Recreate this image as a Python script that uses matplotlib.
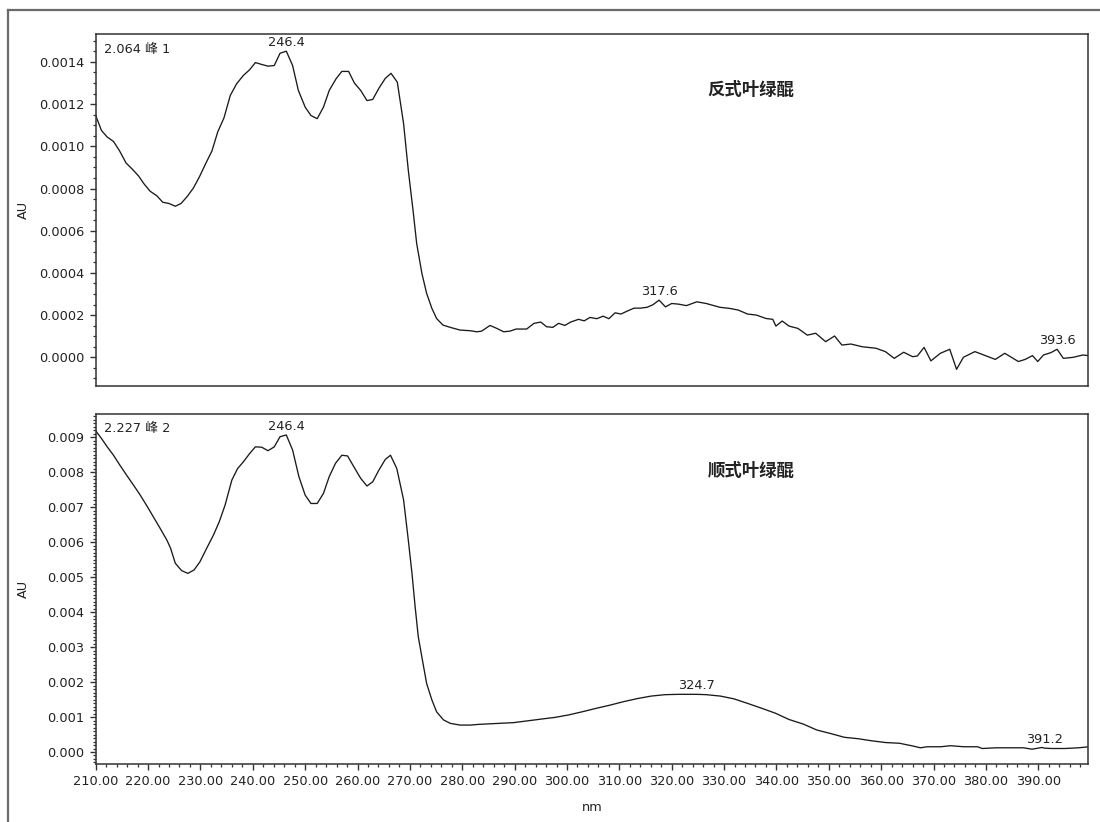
import matplotlib
matplotlib.use("Agg")
import matplotlib.pyplot as plt
from matplotlib.ticker import MultipleLocator, FormatStrFormatter
from matplotlib.lines import Line2D

# ---------------- data ----------------
wl_trans = [210.0, 211.1, 212.2, 213.4, 214.5, 215.8, 217.1, 218.2, 219.2, 220.4, 221.7, 222.8,
            224.0, 225.2, 226.3, 227.5, 228.7, 229.8, 231.0, 232.2, 233.3, 234.5, 235.7, 236.9,
            238.2, 239.4, 240.5, 241.7, 242.9, 244.1, 245.2, 246.4, 247.6, 248.7, 250.0, 251.1,
            252.3, 253.5, 254.6, 255.9, 257.0, 258.3, 259.4, 260.6, 261.8, 262.9, 264.1, 265.3,
            266.4, 267.6, 268.8, 269.7, 270.6, 271.3, 272.3, 273.2, 274.2, 275.1, 276.3, 277.7,
            279.6, 281.5, 282.8, 283.7, 285.3, 286.6, 287.9, 289.1, 290.3, 292.3, 293.7, 295.0, 296.1,
            297.3, 298.4, 299.6, 300.7, 302.2, 303.3, 304.4, 305.7, 306.9, 308.0, 309.2, 310.3,
            311.5, 312.8, 314.0, 315.3, 316.4, 317.6, 318.8, 320.0, 321.3, 322.8, 324.8, 326.6,
            329.2, 331.0, 332.7, 334.5, 336.2, 338.0, 339.3, 339.9, 341.1, 342.4, 344.1, 345.9,
            347.5, 349.4, 351.1, 352.5, 354.2, 356.4, 359.0, 360.8, 362.5, 364.3, 366.0, 366.9,
            368.2, 369.5, 371.3, 373.1, 374.4, 375.7, 377.9, 380.1, 381.8, 383.6, 386.2, 387.5,
            388.9, 389.9, 391.0, 392.4, 393.6, 394.8, 396.7, 398.5, 399.6]
au_trans = [0.001146, 0.001075, 0.001044, 0.001023, 0.000981, 0.000921, 0.000889, 0.000859,
            0.000823, 0.000787, 0.000765, 0.000735, 0.000729, 0.000716, 0.000729, 0.000763,
            0.000804, 0.000855, 0.000918, 0.000978, 0.001068, 0.001135, 0.001241, 0.001296,
            0.001336, 0.001363, 0.001397, 0.001388, 0.001380, 0.001383, 0.001441, 0.001451,
            0.001383, 0.001265, 0.001186, 0.001146, 0.001131, 0.001186, 0.001265, 0.001320,
            0.001355, 0.001355, 0.001300, 0.001265, 0.001217, 0.001222, 0.001276, 0.001322,
            0.001346, 0.001304, 0.001107, 0.000886, 0.000697, 0.000539, 0.000397, 0.000303,
            0.000232, 0.000184, 0.000153, 0.000142, 0.000129, 0.000126, 0.000121, 0.000124,
            0.000151, 0.000137, 0.000121, 0.000124, 0.000134, 0.000134, 0.000161, 0.000167,
            0.000145, 0.000142, 0.000161, 0.000151, 0.000167, 0.000180, 0.000173, 0.000189,
            0.000183, 0.000195, 0.000183, 0.000211, 0.000205, 0.000219, 0.000233, 0.000233,
            0.000237, 0.000249, 0.000271, 0.000239, 0.000255, 0.000252, 0.000245, 0.000263,
            0.000255, 0.000237, 0.000232, 0.000224, 0.000205, 0.000200, 0.000184, 0.000180,
            0.000148, 0.000172, 0.000148, 0.000137, 0.000105, 0.000114, 0.000074, 0.000101,
            0.000058, 0.000063, 0.000050, 0.000043, 0.000027, -0.000005, 0.000024, 0.000003,
            0.000006, 0.000047, -0.000017, 0.000019, 0.000038, -0.000057, 0.000000, 0.000027,
            0.000006, -0.000010, 0.000019, -0.000020, -0.000010, 0.000008, -0.000020, 0.000011,
            0.000022, 0.000038, -0.000005, 0.000000, 0.000011, 0.000008]

wl_cis = [210.0, 211.1, 212.2, 213.4, 214.6, 215.9, 217.2, 218.5, 219.7, 221.0, 222.3, 223.6,
          224.3, 225.2, 226.4, 227.6, 228.8, 229.9, 231.2, 232.5, 233.6, 234.7, 236.0, 237.1,
          238.2, 239.4, 240.5, 241.7, 242.9, 244.1, 245.2, 246.4, 247.6, 248.8, 250.0, 251.1,
          252.3, 253.5, 254.6, 255.8, 257.0, 258.1, 259.3, 260.6, 261.8, 262.9, 264.1, 265.3,
          266.3, 267.5, 268.8, 269.7, 270.4, 271.0, 271.6, 272.5, 273.2, 274.2, 275.1, 276.4,
          277.7, 279.6, 281.5, 283.1, 284.5, 287.1, 289.8, 292.4, 295.0, 297.7, 300.3, 302.9,
          305.6, 308.2, 310.8, 313.5, 316.1, 318.7, 321.4, 324.7, 326.6, 329.3, 331.9, 334.5,
          337.2, 339.8, 342.4, 345.1, 347.7, 350.3, 353.0, 355.6, 358.2, 360.9, 363.5, 366.1,
          367.5, 368.8, 371.4, 373.2, 375.8, 378.4, 379.3, 382.0, 384.6, 387.2, 388.8, 390.7,
          391.2, 392.5, 395.1, 397.7, 399.7]
au_cis = [0.00919, 0.00897, 0.00873, 0.00849, 0.00821, 0.00792, 0.00764, 0.00735, 0.00706,
          0.00673, 0.00640, 0.00606, 0.00583, 0.00540, 0.00519, 0.00511, 0.00521, 0.00544,
          0.00583, 0.00621, 0.00659, 0.00706, 0.00778, 0.00811, 0.00830, 0.00854, 0.00873,
          0.00872, 0.00862, 0.00873, 0.00902, 0.00907, 0.00864, 0.00788, 0.00735, 0.00711,
          0.00711, 0.00740, 0.00788, 0.00826, 0.00849, 0.00847, 0.00816, 0.00783, 0.00761,
          0.00773, 0.00807, 0.00837, 0.00849, 0.00811, 0.00721, 0.00606, 0.00511, 0.00416,
          0.00330, 0.00254, 0.00196, 0.00149, 0.00115, 0.00092, 0.00082, 0.00077, 0.00077,
          0.00079, 0.00080, 0.00082, 0.00084, 0.00089, 0.00094, 0.00099, 0.00106, 0.00115,
          0.00125, 0.00134, 0.00144, 0.00153, 0.00160, 0.00164, 0.00165, 0.00165, 0.00164,
          0.00160, 0.00152, 0.00139, 0.00125, 0.00111, 0.00093, 0.00080, 0.00063, 0.00053,
          0.00042, 0.00038, 0.00032, 0.00027, 0.00025, 0.00017, 0.00012, 0.00015, 0.00015,
          0.00018, 0.00015, 0.00015, 0.00010, 0.00012, 0.00012, 0.00012, 0.00008, 0.00013,
          0.00011, 0.00010, 0.00010, 0.00012, 0.00015]

peaks_trans = [246.4, 317.6, 393.6]
peaks_cis = [246.4, 324.7, 391.2]
label_trans = "2.064 峰 1"
label_cis = "2.227 峰 2"
title_trans = "反式叶绿醌"
title_cis = "顺式叶绿醌"
x_label = "nm"
y_label = "AU"

# ---------------- figure ----------------
plt.rcParams['font.family'] = ['DejaVu Sans', 'Noto Sans CJK SC']
plt.rcParams['axes.unicode_minus'] = False

W, H = 1100, 822
fig = plt.figure(figsize=(W / 100, H / 100), dpi=100)

# outer frame (partially visible)
fc = '#6b6b6b'
fig.add_artist(Line2D([7.5 / W, 7.5 / W], [0, 1 - 10 / H], transform=fig.transFigure,
                      color=fc, lw=1.6))
fig.add_artist(Line2D([7.5 / W, 1.0], [1 - 10 / H, 1 - 10 / H], transform=fig.transFigure,
                      color=fc, lw=1.6))

left = 95.7 / W
width = (1088 - 95.7) / W
ax1 = fig.add_axes([left, 1 - 386 / H, width, (386 - 34.5) / H])
ax2 = fig.add_axes([left, 1 - 764.3 / H, width, (764.3 - 414) / H])

line_c = '#1a1a1a'
spine_c = '#333333'
fs_tick = 9.3


def style(ax):
    for s in ax.spines.values():
        s.set_color(spine_c)
        s.set_linewidth(1.1)
    ax.tick_params(axis='both', which='major', direction='out', length=4.5, width=1.0,
                   color=spine_c, labelsize=fs_tick, labelcolor='#222222', pad=3.5)
    ax.tick_params(axis='both', which='minor', direction='out', length=2.3, width=0.9,
                   color=spine_c)
    ax.set_xlim(210, 399.5)


def annotate_peaks(ax, wl, au, peaks):
    for p in peaks:
        i = min(range(len(wl)), key=lambda k: abs(wl[k] - p))
        ax.annotate(f"{p:.1f}", xy=(p, au[i]), xytext=(0, 1.5), textcoords='offset points',
                    ha='center', va='bottom', fontsize=fs_tick, color='#222222')


# top panel
ax1.plot(wl_trans, au_trans, color=line_c, lw=0.95)
style(ax1)
ax1.set_ylim(-0.000136, 0.00153)
ax1.yaxis.set_major_locator(MultipleLocator(0.0002))
ax1.yaxis.set_minor_locator(MultipleLocator(0.00005))
ax1.yaxis.set_major_formatter(FormatStrFormatter('%.4f'))
ax1.xaxis.set_major_locator(MultipleLocator(10))
ax1.tick_params(axis='x', which='both', bottom=False, labelbottom=False)
ax1.set_ylabel(y_label, fontsize=fs_tick, color='#222222', labelpad=8)
ax1.yaxis.set_label_coords(-65.7 / (1088 - 95.7), 0.5)
annotate_peaks(ax1, wl_trans, au_trans, peaks_trans)
ax1.text(0.0085, 0.958, label_trans, transform=ax1.transAxes, ha='left', va='center',
         fontsize=fs_tick, color='#222222')
ax1.text((751 - 95.7) / (1088 - 95.7), 1 - (90 - 34.5) / (386 - 34.5), title_trans,
         transform=ax1.transAxes, ha='center', va='center', fontsize=12.5,
         family=['Noto Sans CJK SC'], weight='bold', color='#222222')

# bottom panel
ax2.plot(wl_cis, au_cis, color=line_c, lw=0.95)
style(ax2)
ax2.set_ylim(-0.000352, 0.00967)
ax2.yaxis.set_major_locator(MultipleLocator(0.001))
ax2.yaxis.set_minor_locator(MultipleLocator(0.0001))
ax2.yaxis.set_major_formatter(FormatStrFormatter('%.3f'))
ax2.xaxis.set_major_locator(MultipleLocator(10))
ax2.xaxis.set_minor_locator(MultipleLocator(2))
ax2.xaxis.set_major_formatter(FormatStrFormatter('%.2f'))
ax2.set_ylabel(y_label, fontsize=fs_tick, color='#222222')
ax2.yaxis.set_label_coords(-65.7 / (1088 - 95.7), 0.5)
ax2.set_xlabel(x_label, fontsize=fs_tick, color='#222222', labelpad=9)
annotate_peaks(ax2, wl_cis, au_cis, peaks_cis)
ax2.text(0.0085, 0.958, label_cis, transform=ax2.transAxes, ha='left', va='center',
         fontsize=fs_tick, color='#222222')
ax2.text((751 - 95.7) / (1088 - 95.7), 1 - (471 - 414) / (764.3 - 414), title_cis,
         transform=ax2.transAxes, ha='center', va='center', fontsize=12.5,
         family=['Noto Sans CJK SC'], weight='bold', color='#222222')

fig.savefig("out.png", dpi=100, facecolor='white')
